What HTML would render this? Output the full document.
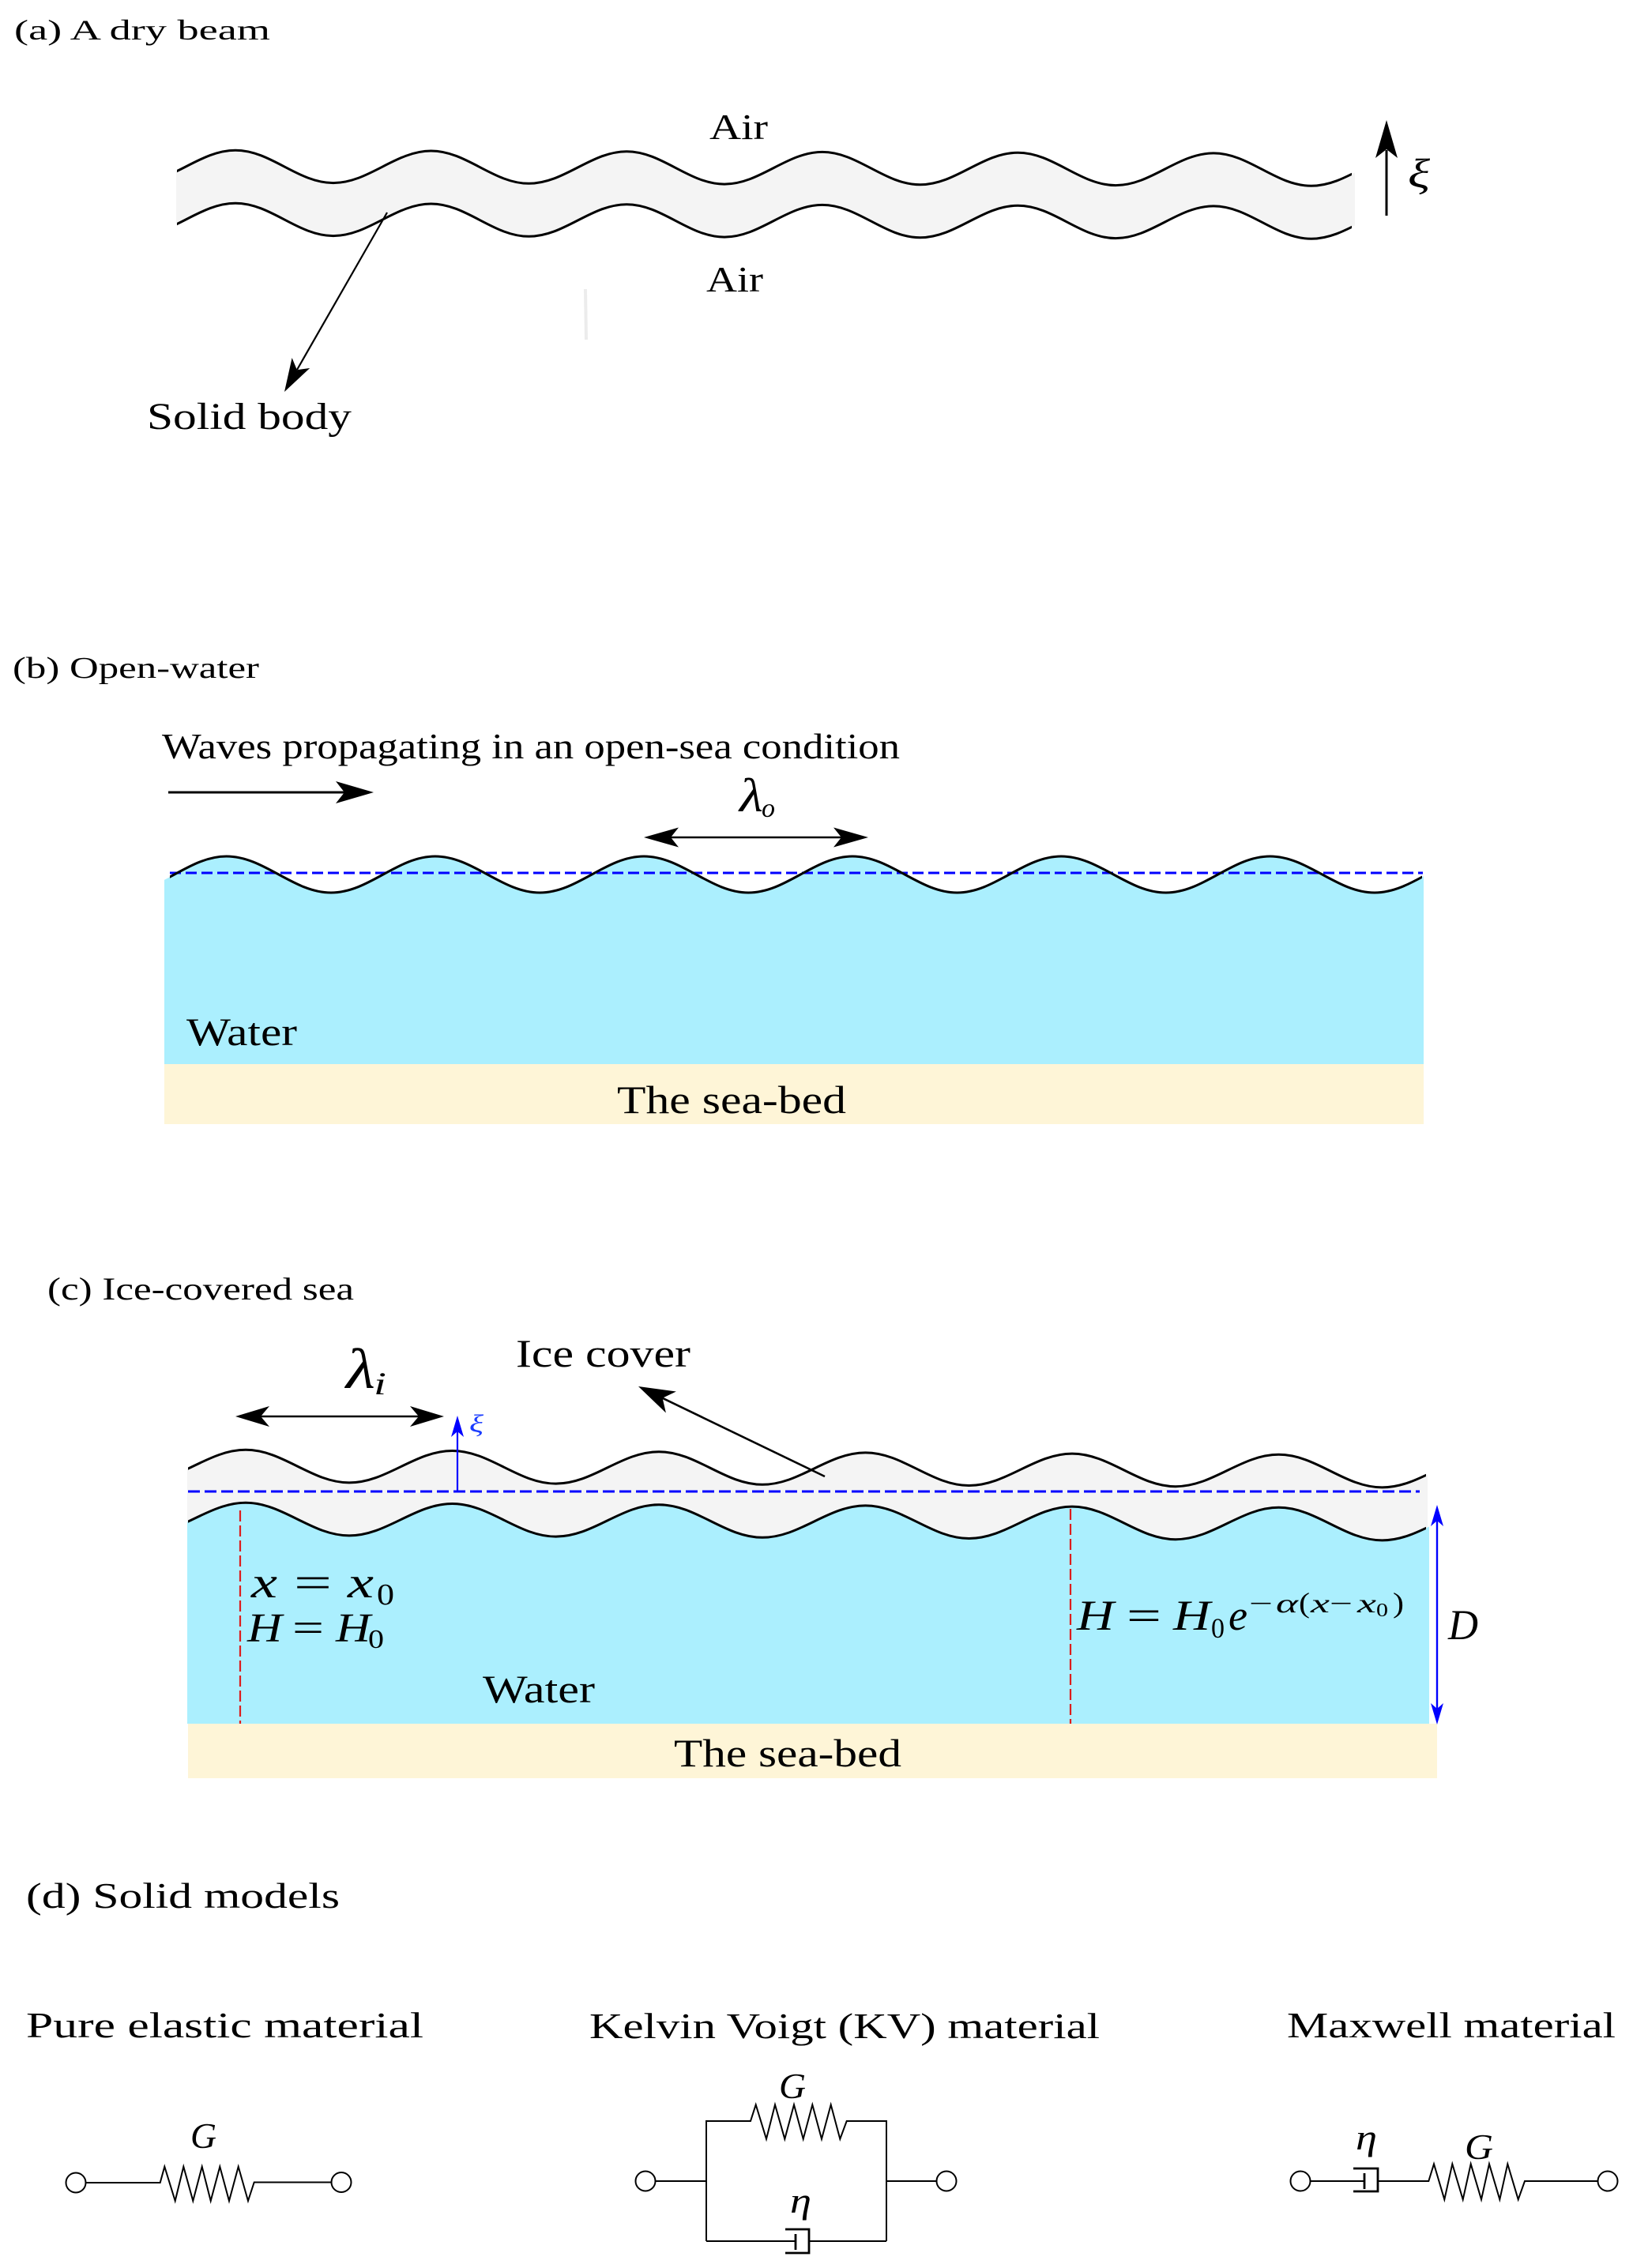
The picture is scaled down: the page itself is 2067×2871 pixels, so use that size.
<!DOCTYPE html>
<html><head><meta charset="utf-8"><style>
html,body{margin:0;padding:0;background:#fff;overflow:hidden}
svg{display:block}
text{font-family:"Liberation Serif","DejaVu Serif",serif;fill:#000}
.it{font-style:italic}
</style></head><body>
<svg width="2067" height="2871" viewBox="0 0 2067 2871" xmlns="http://www.w3.org/2000/svg">
<defs>
<clipPath id="ca1"><rect x="223" y="100" width="1492" height="260"/></clipPath>
<clipPath id="ca2"><rect x="224" y="100" width="1487" height="260"/></clipPath>
<clipPath id="cb1"><rect x="208" y="1050" width="1594" height="320"/></clipPath>
<clipPath id="cb2"><rect x="215" y="1050" width="1585" height="120"/></clipPath>
<clipPath id="cc1"><rect x="237" y="1800" width="1570" height="200"/></clipPath>
<clipPath id="cc2"><rect x="237" y="1800" width="1572" height="400"/></clipPath>
<clipPath id="cc3"><rect x="238" y="1800" width="1567" height="200"/></clipPath>
</defs>

<!-- ===== (a) ===== -->
<text x="18" y="50" font-size="36" textLength="324" lengthAdjust="spacingAndGlyphs">(a) A dry beam</text>
<path clip-path="url(#ca1)" fill="#f4f4f4" d="M174.2,230.8 C219.2,230.8 253,190.2 298,190.2 C343,190.2 376.8,231.6 421.8,231.6 C466.8,231.6 500.6,191 545.6,191 C590.6,191 624.4,232.3 669.4,232.3 C714.4,232.3 748.2,191.7 793.2,191.7 C838.2,191.7 872,233.1 917,233.1 C962,233.1 995.8,192.4 1040.8,192.4 C1085.8,192.4 1119.6,233.8 1164.6,233.8 C1209.6,233.8 1243.4,193.2 1288.4,193.2 C1333.4,193.2 1367.2,234.6 1412.2,234.6 C1457.2,234.6 1491,193.9 1536,193.9 C1581,193.9 1614.8,235.3 1659.8,235.3 C1704.8,235.3 1738.6,194.7 1783.6,194.7 L1783.6,261.7 C1738.6,261.7 1704.8,302.3 1659.8,302.3 C1614.8,302.3 1581,260.9 1536,260.9 C1491,260.9 1457.2,301.6 1412.2,301.6 C1367.2,301.6 1333.4,260.2 1288.4,260.2 C1243.4,260.2 1209.6,300.8 1164.6,300.8 C1119.6,300.8 1085.8,259.4 1040.8,259.4 C995.8,259.4 962,300.1 917,300.1 C872,300.1 838.2,258.7 793.2,258.7 C748.2,258.7 714.4,299.3 669.4,299.3 C624.4,299.3 590.6,258 545.6,258 C500.6,258 466.8,298.6 421.8,298.6 C376.8,298.6 343,257.2 298,257.2 C253,257.2 219.2,297.8 174.2,297.8 Z"/>
<g clip-path="url(#ca2)" fill="none" stroke="#000" stroke-width="3">
<path d="M174.2,230.8 C219.2,230.8 253,190.2 298,190.2 C343,190.2 376.8,231.6 421.8,231.6 C466.8,231.6 500.6,191 545.6,191 C590.6,191 624.4,232.3 669.4,232.3 C714.4,232.3 748.2,191.7 793.2,191.7 C838.2,191.7 872,233.1 917,233.1 C962,233.1 995.8,192.4 1040.8,192.4 C1085.8,192.4 1119.6,233.8 1164.6,233.8 C1209.6,233.8 1243.4,193.2 1288.4,193.2 C1333.4,193.2 1367.2,234.6 1412.2,234.6 C1457.2,234.6 1491,193.9 1536,193.9 C1581,193.9 1614.8,235.3 1659.8,235.3 C1704.8,235.3 1738.6,194.7 1783.6,194.7"/>
<path d="M174.2,297.8 C219.2,297.8 253,257.2 298,257.2 C343,257.2 376.8,298.6 421.8,298.6 C466.8,298.6 500.6,258 545.6,258 C590.6,258 624.4,299.3 669.4,299.3 C714.4,299.3 748.2,258.7 793.2,258.7 C838.2,258.7 872,300.1 917,300.1 C962,300.1 995.8,259.4 1040.8,259.4 C1085.8,259.4 1119.6,300.8 1164.6,300.8 C1209.6,300.8 1243.4,260.2 1288.4,260.2 C1333.4,260.2 1367.2,301.6 1412.2,301.6 C1457.2,301.6 1491,260.9 1536,260.9 C1581,260.9 1614.8,302.3 1659.8,302.3 C1704.8,302.3 1738.6,261.7 1783.6,261.7"/>
</g>
<text x="898" y="176" font-size="46" textLength="74" lengthAdjust="spacingAndGlyphs">Air</text>
<text x="894" y="369" font-size="46" textLength="72" lengthAdjust="spacingAndGlyphs">Air</text>
<line x1="741" y1="366" x2="742" y2="430" stroke="#ececec" stroke-width="4"/>
<!-- xi arrow -->
<line x1="1755" y1="273" x2="1755" y2="190" stroke="#000" stroke-width="3"/>
<polygon points="1755,152 1769,200 1755,189 1741,200" fill="#000"/>
<text class="it" x="1782" y="237" font-size="52" textLength="28" lengthAdjust="spacingAndGlyphs">ξ</text>
<!-- solid body arrow -->
<line x1="490" y1="269" x2="376" y2="468" stroke="#000" stroke-width="2.2"/>
<polygon points="360,496 392.2,466 375.9,468.2 369.6,453" fill="#000"/>
<text x="186" y="543" font-size="48" textLength="259" lengthAdjust="spacingAndGlyphs">Solid body</text>

<!-- ===== (b) ===== -->
<text x="16" y="858" font-size="38" textLength="312" lengthAdjust="spacingAndGlyphs">(b) Open-water</text>
<text x="205" y="960" font-size="45" textLength="934" lengthAdjust="spacingAndGlyphs">Waves propagating in an open-sea condition</text>
<line x1="213" y1="1003" x2="437" y2="1003" stroke="#000" stroke-width="3"/>
<polygon points="473,1003 425,989 436,1003 425,1017" fill="#000"/>
<text class="it" x="936" y="1027" font-size="60" textLength="30" lengthAdjust="spacingAndGlyphs">λ</text>
<text class="it" x="964" y="1034" font-size="34" textLength="17" lengthAdjust="spacingAndGlyphs">o</text>
<line x1="849" y1="1060" x2="1065" y2="1060" stroke="#000" stroke-width="2.6"/>
<polygon points="815,1060 859,1047.5 849,1060 859,1072.5" fill="#000"/>
<polygon points="1099,1060 1055,1047.5 1065,1060 1055,1072.5" fill="#000"/>
<path clip-path="url(#cb1)" fill="#abeffe" d="M154.8,1130 C202.8,1130 238.6,1084 286.6,1084 C334.6,1084 371,1130 419,1130 C467,1130 502.8,1084 550.8,1084 C598.8,1084 635.2,1130 683.2,1130 C731.2,1130 767,1084 815,1084 C863,1084 899.3,1130 947.3,1130 C995.3,1130 1031.1,1084 1079.1,1084 C1127.1,1084 1163.5,1130 1211.5,1130 C1259.5,1130 1295.3,1084 1343.3,1084 C1391.3,1084 1427.7,1130 1475.7,1130 C1523.7,1130 1559.5,1084 1607.5,1084 C1655.5,1084 1691.9,1130 1739.9,1130 C1787.9,1130 1823.7,1084 1871.7,1084 L1871.7,1347 L154.8,1347 Z"/>
<rect x="208" y="1347" width="1594" height="76" fill="#fef5d7"/>
<line x1="215" y1="1105" x2="1801" y2="1105" stroke="#0000ff" stroke-width="3" stroke-dasharray="14 6"/>
<path clip-path="url(#cb2)" fill="none" stroke="#000" stroke-width="3" d="M154.8,1130 C202.8,1130 238.6,1084 286.6,1084 C334.6,1084 371,1130 419,1130 C467,1130 502.8,1084 550.8,1084 C598.8,1084 635.2,1130 683.2,1130 C731.2,1130 767,1084 815,1084 C863,1084 899.3,1130 947.3,1130 C995.3,1130 1031.1,1084 1079.1,1084 C1127.1,1084 1163.5,1130 1211.5,1130 C1259.5,1130 1295.3,1084 1343.3,1084 C1391.3,1084 1427.7,1130 1475.7,1130 C1523.7,1130 1559.5,1084 1607.5,1084 C1655.5,1084 1691.9,1130 1739.9,1130 C1787.9,1130 1823.7,1084 1871.7,1084"/>
<text x="236" y="1323" font-size="50" textLength="140" lengthAdjust="spacingAndGlyphs">Water</text>
<text x="781" y="1409" font-size="50" textLength="290" lengthAdjust="spacingAndGlyphs">The sea-bed</text>

<!-- ===== (c) ===== -->
<text x="60" y="1645" font-size="40" textLength="388" lengthAdjust="spacingAndGlyphs">(c) Ice-covered sea</text>
<text x="653" y="1730" font-size="50" textLength="221" lengthAdjust="spacingAndGlyphs">Ice cover</text>
<text class="it" x="438" y="1757" font-size="72" textLength="37" lengthAdjust="spacingAndGlyphs">λ</text>
<text class="it" x="473" y="1765" font-size="40" textLength="16" lengthAdjust="spacingAndGlyphs">i</text>
<line x1="330" y1="1793" x2="530" y2="1793" stroke="#000" stroke-width="2.6"/>
<polygon points="298,1793 341,1780 330,1793 341,1806" fill="#000"/>
<polygon points="562,1793 519,1780 530,1793 519,1806" fill="#000"/>

<path clip-path="url(#cc1)" fill="#f4f4f4" d="M180.25,1875.7 C227.75,1875.7 263.5,1835.3 311,1835.3 C358.5,1835.3 394.5,1876.9 442,1876.9 C489.5,1876.9 525,1836.5 572.5,1836.5 C620,1836.5 656,1878.1 703.5,1878.1 C751,1878.1 786.5,1837.7 834,1837.7 C881.5,1837.7 917.5,1879.3 965,1879.3 C1012.5,1879.3 1048,1838.9 1095.5,1838.9 C1143,1838.9 1179,1880.5 1226.5,1880.5 C1274,1880.5 1309.5,1840.1 1357,1840.1 C1404.5,1840.1 1440.5,1881.7 1488,1881.7 C1535.5,1881.7 1571,1841.3 1618.5,1841.3 C1666,1841.3 1702,1882.9 1749.5,1882.9 C1797,1882.9 1832.5,1842.5 1880,1842.5 L1880,1990 L180,1990 Z"/>
<path clip-path="url(#cc2)" fill="#abeffe" d="M180.25,1942.7 C227.75,1942.7 263.5,1902.3 311,1902.3 C358.5,1902.3 394.5,1943.9 442,1943.9 C489.5,1943.9 525,1903.5 572.5,1903.5 C620,1903.5 656,1945.1 703.5,1945.1 C751,1945.1 786.5,1904.7 834,1904.7 C881.5,1904.7 917.5,1946.3 965,1946.3 C1012.5,1946.3 1048,1905.9 1095.5,1905.9 C1143,1905.9 1179,1947.5 1226.5,1947.5 C1274,1947.5 1309.5,1907.1 1357,1907.1 C1404.5,1907.1 1440.5,1948.7 1488,1948.7 C1535.5,1948.7 1571,1908.3 1618.5,1908.3 C1666,1908.3 1702,1949.9 1749.5,1949.9 C1797,1949.9 1832.5,1909.5 1880,1909.5 L1880,2182 L180,2182 Z"/>
<rect x="238" y="2182" width="1581" height="69" fill="#fef5d7"/>
<line x1="304" y1="1912" x2="304" y2="2182" stroke="#dd1c1c" stroke-width="2.2" stroke-dasharray="14 5"/>
<line x1="1355" y1="1910" x2="1355" y2="2182" stroke="#dd1c1c" stroke-width="2.2" stroke-dasharray="14 5"/>
<line x1="238" y1="1888" x2="1797" y2="1888" stroke="#0000ff" stroke-width="3" stroke-dasharray="15 6"/>
<g clip-path="url(#cc3)" fill="none" stroke="#000" stroke-width="3">
<path d="M180.25,1875.7 C227.75,1875.7 263.5,1835.3 311,1835.3 C358.5,1835.3 394.5,1876.9 442,1876.9 C489.5,1876.9 525,1836.5 572.5,1836.5 C620,1836.5 656,1878.1 703.5,1878.1 C751,1878.1 786.5,1837.7 834,1837.7 C881.5,1837.7 917.5,1879.3 965,1879.3 C1012.5,1879.3 1048,1838.9 1095.5,1838.9 C1143,1838.9 1179,1880.5 1226.5,1880.5 C1274,1880.5 1309.5,1840.1 1357,1840.1 C1404.5,1840.1 1440.5,1881.7 1488,1881.7 C1535.5,1881.7 1571,1841.3 1618.5,1841.3 C1666,1841.3 1702,1882.9 1749.5,1882.9 C1797,1882.9 1832.5,1842.5 1880,1842.5"/>
<path d="M180.25,1942.7 C227.75,1942.7 263.5,1902.3 311,1902.3 C358.5,1902.3 394.5,1943.9 442,1943.9 C489.5,1943.9 525,1903.5 572.5,1903.5 C620,1903.5 656,1945.1 703.5,1945.1 C751,1945.1 786.5,1904.7 834,1904.7 C881.5,1904.7 917.5,1946.3 965,1946.3 C1012.5,1946.3 1048,1905.9 1095.5,1905.9 C1143,1905.9 1179,1947.5 1226.5,1947.5 C1274,1947.5 1309.5,1907.1 1357,1907.1 C1404.5,1907.1 1440.5,1948.7 1488,1948.7 C1535.5,1948.7 1571,1908.3 1618.5,1908.3 C1666,1908.3 1702,1949.9 1749.5,1949.9 C1797,1949.9 1832.5,1909.5 1880,1909.5"/>
</g>
<!-- blue xi arrow -->
<line x1="579" y1="1888" x2="579" y2="1812" stroke="#0000ff" stroke-width="2.2"/>
<polygon points="579,1792 587,1819 579,1812 571,1819" fill="#0000ff"/>
<text class="it" x="594" y="1813" font-size="32" textLength="18" lengthAdjust="spacingAndGlyphs" style="fill:#1a3cff">ξ</text>
<!-- ice cover arrow -->
<line x1="1044" y1="1869" x2="838.6" y2="1769.8" stroke="#000" stroke-width="2.6"/>
<polygon points="808,1755 855.9,1761.5 838.6,1769.8 842.9,1788.5" fill="#000"/>
<!-- D arrow -->
<line x1="1819" y1="1925" x2="1819" y2="2163" stroke="#0000ff" stroke-width="2.4"/>
<polygon points="1819,1905 1827,1932 1819,1925 1811,1932" fill="#0000ff"/>
<polygon points="1819,2183 1827,2156 1819,2163 1811,2156" fill="#0000ff"/>
<text class="it" x="1833" y="2075" font-size="54" textLength="38" lengthAdjust="spacingAndGlyphs">D</text>
<!-- x = x0, H = H0 -->
<text class="it" x="318" y="2022" font-size="56" textLength="33" lengthAdjust="spacingAndGlyphs">x</text>
<text x="372" y="2022" font-size="56" textLength="48" lengthAdjust="spacingAndGlyphs">=</text>
<text class="it" x="440" y="2022" font-size="56" textLength="33" lengthAdjust="spacingAndGlyphs">x</text>
<text x="477" y="2031" font-size="38" textLength="22" lengthAdjust="spacingAndGlyphs">0</text>
<text class="it" x="313" y="2078" font-size="52" textLength="44" lengthAdjust="spacingAndGlyphs">H</text>
<text x="370" y="2078" font-size="52" textLength="40" lengthAdjust="spacingAndGlyphs">=</text>
<text class="it" x="425" y="2078" font-size="52" textLength="44" lengthAdjust="spacingAndGlyphs">H</text>
<text x="466" y="2086" font-size="34" textLength="20" lengthAdjust="spacingAndGlyphs">0</text>
<!-- H = H0 e^{-alpha(x-x0)} -->
<text class="it" x="1363" y="2063" font-size="54" textLength="47" lengthAdjust="spacingAndGlyphs">H</text>
<text x="1426" y="2063" font-size="54" textLength="44" lengthAdjust="spacingAndGlyphs">=</text>
<text class="it" x="1485" y="2063" font-size="54" textLength="47" lengthAdjust="spacingAndGlyphs">H</text>
<text x="1533" y="2073" font-size="36" textLength="17" lengthAdjust="spacingAndGlyphs">0</text>
<text class="it" x="1555" y="2063" font-size="54" textLength="24" lengthAdjust="spacingAndGlyphs">e</text>
<text x="1581" y="2041" font-size="34" textLength="30" lengthAdjust="spacingAndGlyphs">−</text>
<text class="it" x="1615" y="2041" font-size="34" textLength="28" lengthAdjust="spacingAndGlyphs">α</text>
<text x="1644" y="2041" font-size="36" textLength="14" lengthAdjust="spacingAndGlyphs">(</text>
<text class="it" x="1659" y="2041" font-size="34" textLength="24" lengthAdjust="spacingAndGlyphs">x</text>
<text x="1683" y="2041" font-size="34" textLength="29" lengthAdjust="spacingAndGlyphs">−</text>
<text class="it" x="1718" y="2041" font-size="34" textLength="24" lengthAdjust="spacingAndGlyphs">x</text>
<text x="1742" y="2046" font-size="24" textLength="15" lengthAdjust="spacingAndGlyphs">0</text>
<text x="1763" y="2041" font-size="36" textLength="14" lengthAdjust="spacingAndGlyphs">)</text>
<text x="611" y="2155" font-size="50" textLength="142" lengthAdjust="spacingAndGlyphs">Water</text>
<text x="853" y="2236" font-size="50" textLength="288" lengthAdjust="spacingAndGlyphs">The sea-bed</text>

<!-- ===== (d) ===== -->
<text x="33" y="2415" font-size="45" textLength="397" lengthAdjust="spacingAndGlyphs">(d) Solid models</text>
<text x="33" y="2579" font-size="46" textLength="503" lengthAdjust="spacingAndGlyphs">Pure elastic material</text>
<text x="746" y="2580" font-size="46" textLength="646" lengthAdjust="spacingAndGlyphs">Kelvin Voigt (KV) material</text>
<text x="1629" y="2579" font-size="46" textLength="416" lengthAdjust="spacingAndGlyphs">Maxwell material</text>

<g fill="none" stroke="#000" stroke-width="2">
<!-- elastic -->
<circle cx="96" cy="2763" r="12.5" fill="#fff"/>
<polyline points="108.5,2763 202.7,2763 208.3,2742.7 221.7,2786 232.3,2742.7 244.3,2786 255.7,2742.7 266.7,2786 278.3,2742.7 290,2786 301.7,2742.7 314,2786 321.7,2762.5 419.5,2762.5"/>
<circle cx="432" cy="2762.5" r="12.5" fill="#fff"/>
<!-- KV -->
<circle cx="817" cy="2761" r="12.5" fill="#fff"/>
<line x1="829.5" y1="2761" x2="894" y2="2761"/>
<polyline points="894,2837 894,2685 950,2685 956.7,2664.3 970,2707.7 981,2664.3 993.3,2707.7 1005,2664.3 1016.7,2707.7 1028.3,2664.3 1040,2707.7 1051.7,2664.3 1063.3,2707.7 1071.7,2685 1122,2685 1122,2837"/>
<line x1="894" y1="2837" x2="1007" y2="2837"/>
<line x1="1024" y1="2837" x2="1122" y2="2837"/>
<line x1="1122" y1="2761" x2="1185.5" y2="2761"/>
<circle cx="1198" cy="2761" r="12.5" fill="#fff"/>
<!-- Maxwell -->
<circle cx="1646" cy="2761" r="12.5" fill="#fff"/>
<line x1="1658.5" y1="2761" x2="1727" y2="2761"/>
<polyline points="1744,2761 1808.3,2761 1815,2739.3 1828.3,2784.3 1838.3,2739.3 1851.7,2784.3 1861.7,2739.3 1875,2784.3 1885,2739.3 1898.3,2784.3 1908.3,2739.3 1921.7,2784.3 1930,2761 2022.5,2761"/>
<circle cx="2035" cy="2761" r="12.5" fill="#fff"/>
</g>
<g fill="none" stroke="#000" stroke-width="2.8">
<line x1="1007" y1="2828" x2="1007" y2="2848"/>
<polyline points="994,2822 1024,2822 1024,2852 994,2852"/>
<line x1="1727" y1="2751" x2="1727" y2="2771"/>
<polyline points="1713,2745 1744,2745 1744,2774 1713,2774"/>
</g>
<text class="it" x="241" y="2719" font-size="46" textLength="33" lengthAdjust="spacingAndGlyphs">G</text>
<text class="it" x="986" y="2656" font-size="46" textLength="34" lengthAdjust="spacingAndGlyphs">G</text>
<text class="it" x="1000" y="2801" font-size="46" textLength="27" lengthAdjust="spacingAndGlyphs">η</text>
<text class="it" x="1716" y="2721" font-size="46" textLength="27" lengthAdjust="spacingAndGlyphs">η</text>
<text class="it" x="1854" y="2733" font-size="46" textLength="36" lengthAdjust="spacingAndGlyphs">G</text>
</svg>
</body></html>
